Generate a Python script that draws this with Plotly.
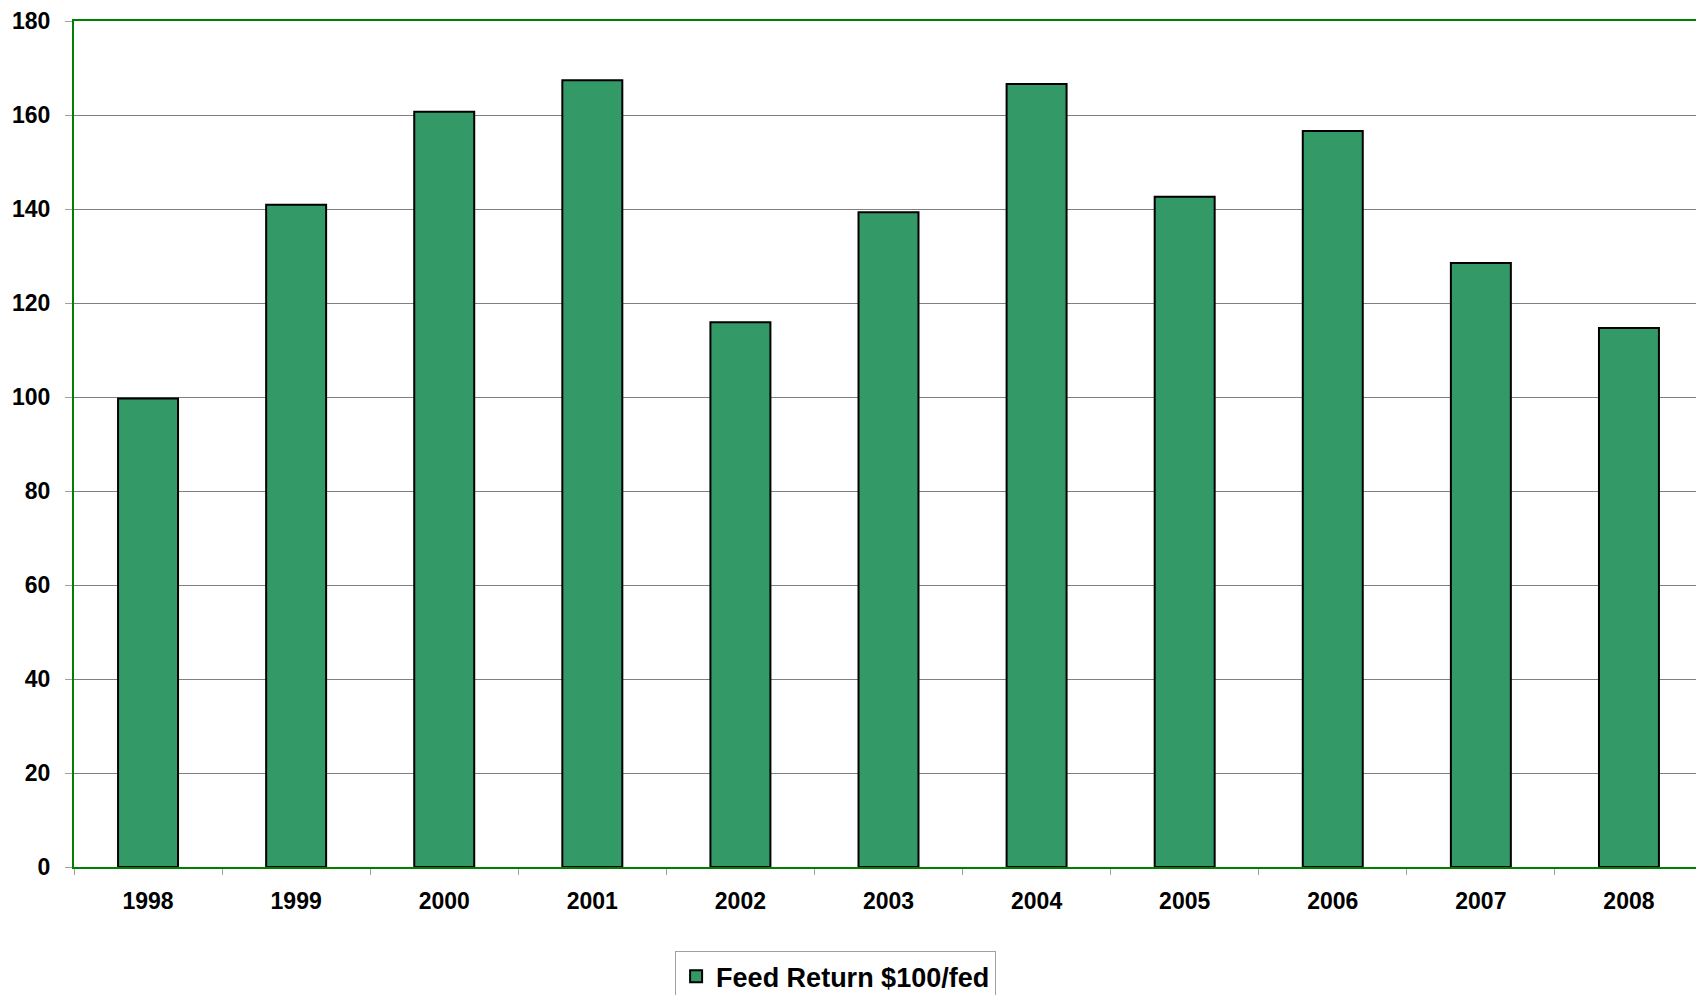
import plotly.graph_objects as go

years = ["1998", "1999", "2000", "2001", "2002", "2003", "2004", "2005", "2006", "2007", "2008"]
feed_return = [99.7, 140.9, 160.7, 167.4, 115.9, 139.3, 166.6, 142.6, 156.6, 128.5, 114.7]
series_name = "Feed Return $100/fed"
y_ticks = [0, 20, 40, 60, 80, 100, 120, 140, 160, 180]

font_family = "Liberation Sans, Arial, sans-serif"

fig = go.Figure()
fig.add_trace(go.Bar(
    x=years,
    y=feed_return,
    name=series_name,
    width=0.405,
    marker=dict(color="#339966", line=dict(color="#000000", width=2)),
    showlegend=True,
))

fig.update_layout(
    width=1704,
    height=1030,
    margin=dict(l=66, r=9, t=13, b=171),
    paper_bgcolor="white",
    plot_bgcolor="white",
    font=dict(family=font_family, color="black"),
    showlegend=True,
    legend=dict(
        x=0.369, xanchor="left",
        y=-0.0995, yanchor="top",
        orientation="h",
        bordercolor="#a0a0a0",
        borderwidth=1,
        bgcolor="white",
        font=dict(family=font_family, size=27, color="black", weight="bold"),
        itemwidth=30,
    ),
    bargap=0.595,
)

fig.update_xaxes(
    type="category",
    automargin=False,
    showline=True, linecolor="#008000", linewidth=2, mirror=True,
    ticks="outside", tickson="boundaries", ticklen=6, tickcolor="#a0a0a0", tickwidth=1,
    showgrid=False,
    tickfont=dict(family=font_family, size=23, color="black", weight="bold"),
    ticklabelstandoff=12,
)
fig.update_yaxes(
    range=[0, 180],
    automargin=False,
    tickvals=y_ticks,
    ticklabeloverflow="allow",
    showline=True, linecolor="#008000", linewidth=2, mirror=True,
    ticks="outside", ticklen=7, tickcolor="#a0a0a0", tickwidth=1,
    showgrid=True, gridcolor="#808080", gridwidth=1,
    zeroline=False,
    tickfont=dict(family=font_family, size=23, color="black", weight="bold"),
    ticklabelstandoff=10,
)

fig.write_html("out.html")
